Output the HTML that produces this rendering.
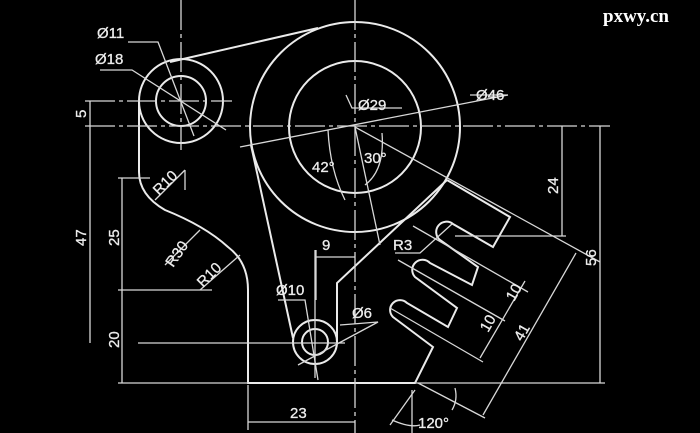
<!DOCTYPE html>
<html><head><style>
html,body{margin:0;padding:0;background:#000;}
svg{display:block}
text{font-family:"Liberation Sans",Arial,sans-serif;font-size:15px;fill:#ececec;stroke:#ececec;stroke-width:0.3}
</style></head><body>
<svg width="700" height="433" viewBox="0 0 700 433" xmlns="http://www.w3.org/2000/svg">
<rect width="700" height="433" fill="#000"/>
<g stroke="#ebebeb" stroke-width="2" fill="none">
 <circle cx="181" cy="101" r="42"/>
 <circle cx="181" cy="101" r="25"/>
 <circle cx="355" cy="127" r="105"/>
 <circle cx="355" cy="127" r="66"/>
 <circle cx="315" cy="342" r="22"/>
 <circle cx="315" cy="342" r="13"/>
 <line x1="170" y1="62" x2="318" y2="28"/>
 <path d="M139,101 L139,172 Q139,195 165,210 Q205,226 228,247 Q248,262 248,290 L248,383 L415,383 L433,347 L393,317 A9,9 0 0 1 407,303 L448,327 L457,308 L415,277 A9,9 0 0 1 430,263 L472,285 L478,267 L440,240 A9,9 0 0 1 453,224 L493,247 L510,217 L447,180"/>
 <path d="M447,180 L337,283 L337,342"/>
 <line x1="251" y1="145" x2="293" y2="338"/>
</g>
<g stroke="#d8d8d8" stroke-width="1.3" fill="none">
 <line x1="355" y1="0" x2="355" y2="433" stroke-dasharray="30,4,4,4"/>
 <line x1="181" y1="0" x2="181" y2="150" stroke-dasharray="30,4,4,4"/>
 <line x1="85" y1="126" x2="610" y2="126" stroke-dasharray="30,4,4,4"/>
 <line x1="85" y1="101" x2="232" y2="101" stroke-dasharray="30,4,4,4"/>
 <line x1="315" y1="250" x2="315" y2="378"/>
 <line x1="138" y1="343" x2="345" y2="343"/>
 <line x1="118" y1="383" x2="248" y2="383"/>
 <line x1="118" y1="178" x2="150" y2="178"/>
 <line x1="118" y1="290" x2="212" y2="290"/>
 <line x1="185" y1="170" x2="185" y2="190"/>
 <line x1="90" y1="101" x2="90" y2="343"/>
 <line x1="122" y1="178" x2="122" y2="383"/>
 <line x1="562" y1="126" x2="562" y2="236"/>
 <line x1="455" y1="236" x2="566" y2="236"/>
 <line x1="600" y1="126" x2="600" y2="383"/>
 <line x1="415" y1="383" x2="605" y2="383"/>
 <line x1="316" y1="257" x2="355" y2="257"/>
 <line x1="316" y1="250" x2="316" y2="300"/>
 <line x1="248" y1="385" x2="248" y2="430"/>
 <line x1="248" y1="422" x2="355" y2="422"/>
 <polyline points="128,42 158,42 194,136"/>
 <polyline points="100,70 132,70 226,130"/>
 <line x1="240" y1="147" x2="508" y2="95"/>
 <line x1="470" y1="95" x2="508" y2="95"/>
 <polyline points="346,95 352,108 402,108"/>
 <polyline points="278,300 305,300 318,380"/>
 <polyline points="340,325 378,322 298,365"/>
 <polyline points="395,253 420,253 452,224"/>
 <line x1="155" y1="200" x2="185" y2="170"/>
 <line x1="165" y1="265" x2="200" y2="230"/>
 <line x1="200" y1="290" x2="240" y2="255"/>
 <line x1="355" y1="127" x2="380" y2="245"/>
 <line x1="355" y1="127" x2="600" y2="262"/>
 <path d="M328,130 Q330,170 345,200"/>
 <path d="M382,133 Q385,170 365,185"/>
 <line x1="413" y1="226" x2="528" y2="292"/>
 <line x1="398" y1="260" x2="505" y2="321"/>
 <line x1="390" y1="308" x2="483" y2="362"/>
 <line x1="525" y1="281" x2="480" y2="358"/>
 <line x1="576" y1="253" x2="483" y2="415"/>
 <line x1="418" y1="383" x2="485" y2="418"/>
 <line x1="415" y1="390" x2="390" y2="425"/>
 <line x1="412" y1="390" x2="412" y2="433"/>
 <path d="M392,420 Q410,428 420,425"/>
 <path d="M455,388 Q458,400 452,410"/>
</g>
<g>
 <text x="97" y="38">Ø11</text>
 <text x="95" y="64">Ø18</text>
 <text x="358" y="110">Ø29</text>
 <text x="476" y="100">Ø46</text>
 <text x="312" y="172">42°</text>
 <text x="364" y="163">30°</text>
 <text x="393" y="250">R3</text>
 <text x="322" y="250">9</text>
 <text x="276" y="295">Ø10</text>
 <text x="352" y="318">Ø6</text>
 <text x="290" y="418">23</text>
 <text x="418" y="428">120°</text>
 <text transform="translate(86,118) rotate(-90)">5</text>
 <text transform="translate(86,246) rotate(-90)">47</text>
 <text transform="translate(119,246) rotate(-90)">25</text>
 <text transform="translate(119,348) rotate(-90)">20</text>
 <text transform="translate(558,194) rotate(-90)">24</text>
 <text transform="translate(596,266) rotate(-90)">56</text>
 <text transform="translate(159,196) rotate(-45)">R10</text>
 <text transform="translate(173,268) rotate(-55)">R30</text>
 <text transform="translate(203,288) rotate(-45)">R10</text>
 <text transform="translate(514,302) rotate(-60)">10</text>
 <text transform="translate(488,333) rotate(-60)">10</text>
 <text transform="translate(522,342) rotate(-60)">41</text>
 <text x="603" y="22" style="font-family:'Liberation Serif',serif;font-weight:bold;font-size:19px;fill:#fff;stroke:none">pxwy.cn</text>
</g>
</svg>
</body></html>
